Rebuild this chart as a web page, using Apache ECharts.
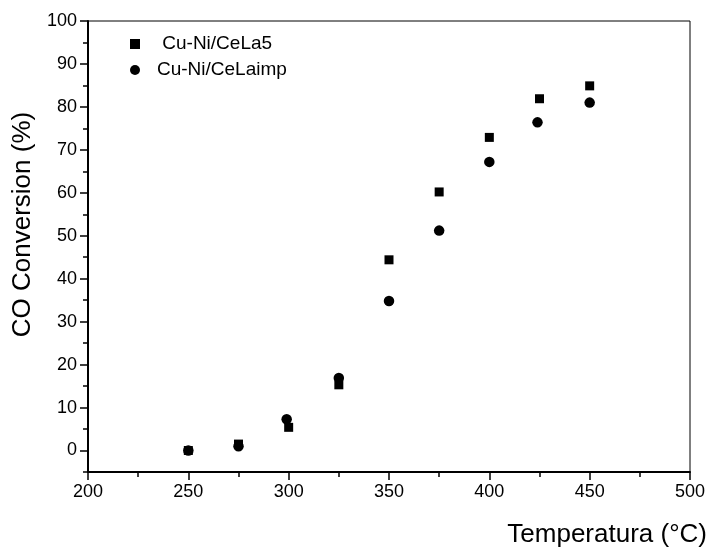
<!DOCTYPE html>
<html>
<head>
<meta charset="utf-8">
<script src="https://cdn.jsdelivr.net/npm/echarts@6/dist/echarts.min.js"></script>
<style>
  html, body { margin: 0; padding: 0; background: #fff; }
  #chart { width: 712px; height: 555px; }
</style>
</head>
<body>
<div id="chart"></div>
<script>
// data
var nameA = 'Cu-Ni/CeLa5';
var nameB = 'Cu-Ni/CeLaimp';
var tempA = [250, 275, 300, 325, 350, 375, 400, 425, 450];
var convA = [0, 1.5, 5.4, 15.3, 44.4, 60.2, 72.9, 81.9, 84.9];
var tempB = [250, 275, 299, 325, 350, 375, 400, 424, 450];
var convB = [0, 1.0, 7.3, 16.9, 34.8, 51.2, 67.2, 76.4, 81.0];
var yMajor = [0, 10, 20, 30, 40, 50, 60, 70, 80, 90, 100];

function pairs(xs, ys) {
    return xs.map(function (x, i) { return [x, ys[i]]; });
}

var font = 'Liberation Sans, Arial, sans-serif';
var chart = echarts.init(document.getElementById('chart'));

chart.setOption({
    animation: false,
    backgroundColor: '#fff',
    textStyle: { fontFamily: font, color: '#000' },
    title: {
        text: 'Temperatura (°C)',
        right: 0,
        bottom: 2,
        textStyle: { fontFamily: font, fontSize: 26, fontWeight: 'normal', color: '#000' }
    },
    legend: {
        orient: 'vertical',
        left: 125,
        top: 29,
        itemWidth: 10,
        itemHeight: 10,
        itemGap: 6,
        textStyle: { fontFamily: font, fontSize: 19, lineHeight: 20, color: '#000', padding: [0, 0, 0, 12] },
        formatter: function (name) { return name === nameA ? ' ' + name : name; },
        data: [
            { name: nameA, icon: 'rect', itemStyle: { color: '#000', opacity: 1 } },
            { name: nameB, icon: 'circle', itemStyle: { color: '#000', opacity: 1 } }
        ]
    },
    grid: {
        left: 88, right: 22, top: 21, bottom: 83,
        outerBoundsMode: 'none',
        containLabel: false,
        show: true, borderColor: '#000', borderWidth: 1
    },
    xAxis: {
        type: 'value',
        min: 200, max: 500, interval: 50,
        axisLine: { onZero: false, lineStyle: { color: '#000', width: 2 } },
        axisTick: { length: 8, lineStyle: { color: '#000', width: 1.5 } },
        minorTick: { show: true, splitNumber: 2, length: 5, lineStyle: { color: '#000', width: 1.5 } },
        axisLabel: { fontFamily: font, fontSize: 18, color: '#000', margin: 11 },
        splitLine: { show: false }
    },
    yAxis: [{
        type: 'value',
        position: 'left',
        min: -5, max: 100, interval: 5,
        name: 'CO Conversion (%)',
        nameLocation: 'middle',
        nameGap: 50,
        nameTextStyle: { fontFamily: font, fontSize: 26, color: '#000', padding: [0, 0, 0, 44] },
        axisLine: { show: true, onZero: false, lineStyle: { color: '#000', width: 2 } },
        axisTick: { customValues: yMajor, length: 8, lineStyle: { color: '#000', width: 1.5 } },
        axisLabel: { customValues: yMajor, fontFamily: font, fontSize: 18, color: '#000', margin: 11 },
        splitLine: { show: false }
    }, {
        type: 'value',
        position: 'left',
        min: -5, max: 100, interval: 5,
        axisLine: { show: false, onZero: false },
        axisTick: { show: true, length: 5, lineStyle: { color: '#000', width: 1.5 } },
        axisLabel: { show: false },
        splitLine: { show: false }
    }],
    series: [{
        name: nameA,
        type: 'scatter',
        symbol: 'rect',
        symbolSize: 9,
        itemStyle: { color: '#000', opacity: 1 },
        data: pairs(tempA, convA)
    }, {
        name: nameB,
        type: 'scatter',
        symbol: 'circle',
        symbolSize: 10.5,
        itemStyle: { color: '#000', opacity: 1 },
        data: pairs(tempB, convB)
    }]
});
</script>
</body>
</html>
